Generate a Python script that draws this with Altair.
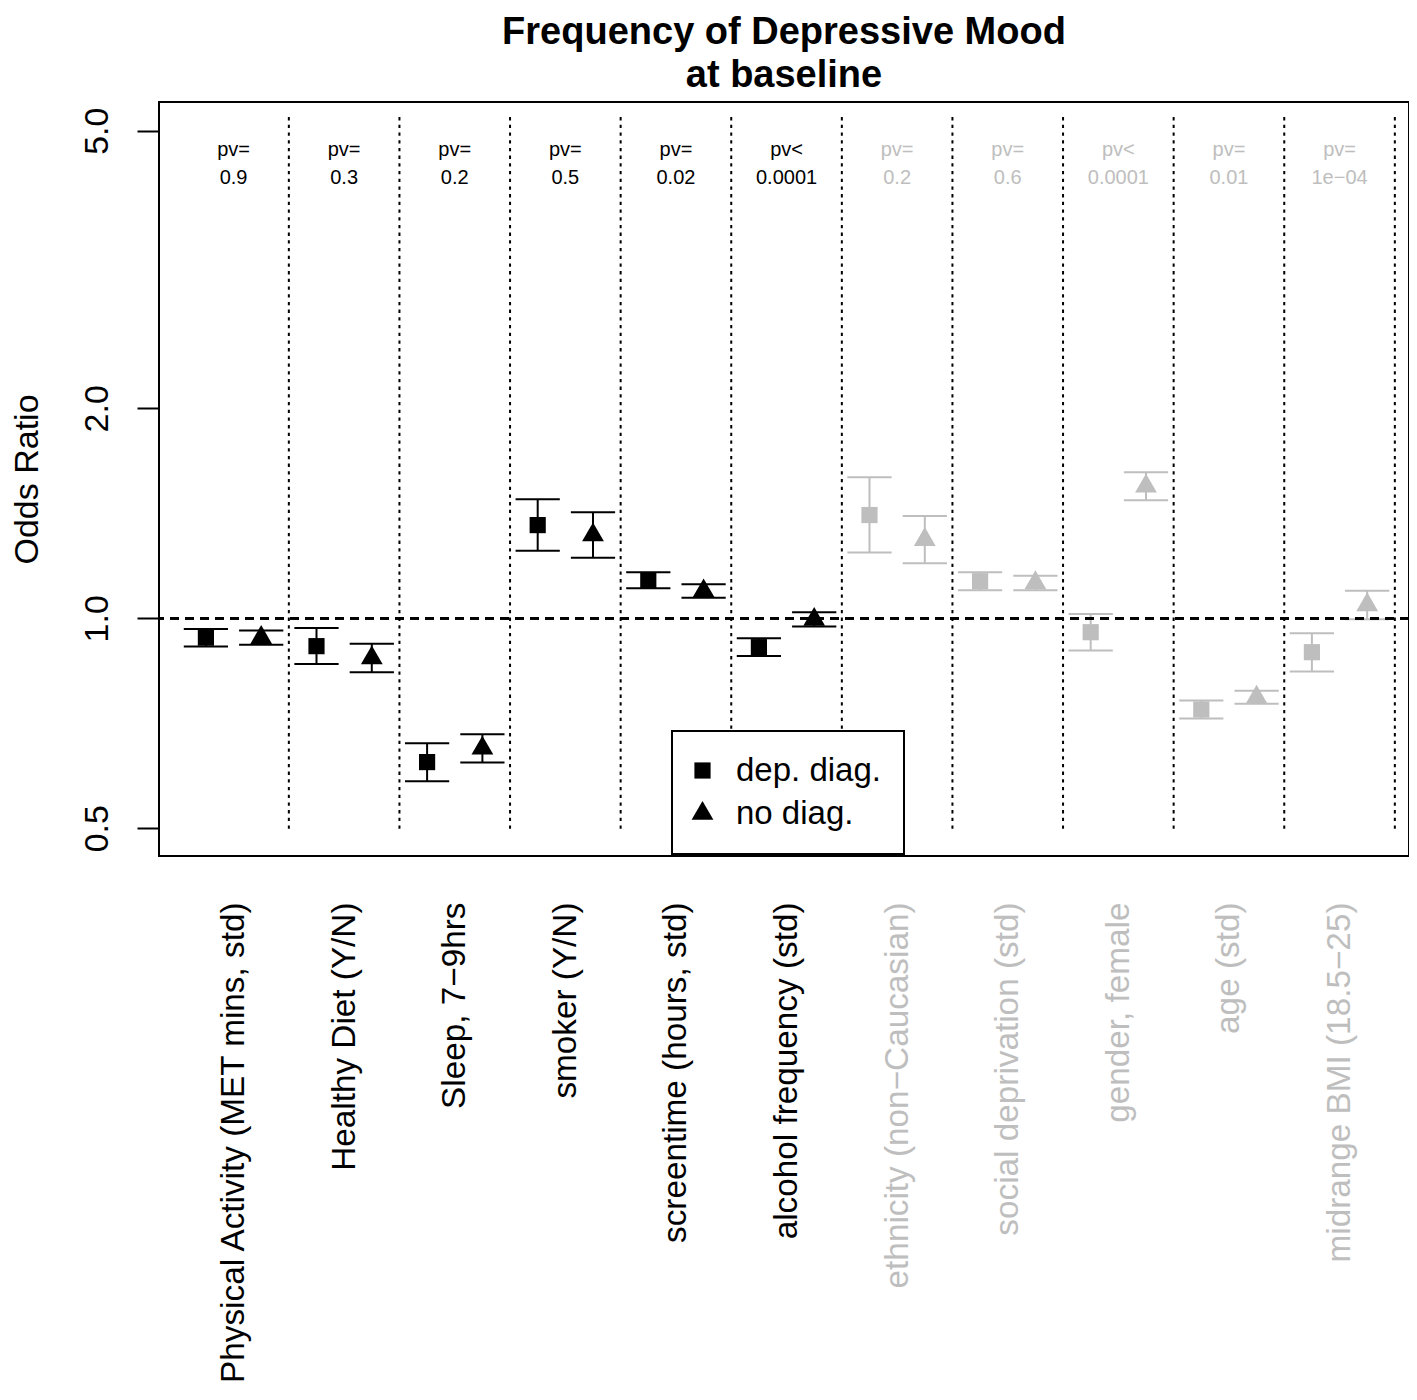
import json
import altair as alt
import pandas as pd

# ---------------- data ----------------
categories = [
    "Physical Activity (MET mins, std)",
    "Healthy Diet (Y/N)",
    "Sleep, 7−9hrs",
    "smoker (Y/N)",
    "screentime (hours, std)",
    "alcohol frequency (std)",
    "ethnicity (non−Caucasian)",
    "social deprivation (std)",
    "gender, female",
    "age (std)",
    "midrange BMI (18.5−25)",
]
is_lifestyle = [True, True, True, True, True, True, False, False, False, False, False]

dep_or = [0.938, 0.912, 0.622, 1.360, 1.134, 0.909, 1.406, 1.130, 0.955, 0.740, 0.894]
dep_lo = [0.911, 0.860, 0.584, 1.250, 1.104, 0.883, 1.242, 1.097, 0.899, 0.718, 0.839]
dep_hi = [0.965, 0.968, 0.662, 1.481, 1.164, 0.936, 1.593, 1.164, 1.014, 0.762, 0.952]

nod_or = [0.938, 0.877, 0.651, 1.316, 1.094, 0.996, 1.296, 1.124, 1.546, 0.770, 1.045]
nod_lo = [0.916, 0.837, 0.621, 1.221, 1.070, 0.973, 1.199, 1.097, 1.476, 0.754, 0.997]
nod_hi = [0.960, 0.919, 0.682, 1.419, 1.119, 1.020, 1.402, 1.151, 1.619, 0.787, 1.095]

pv_op = ["=", "=", "=", "=", "=", "<", "=", "=", "<", "=", "="]
pv_val = ["0.9", "0.3", "0.2", "0.5", "0.02", "0.0001", "0.2", "0.6", "0.0001", "0.01", "1e−04"]

series_names = ["dep. diag.", "no diag."]
y_ticks = [0.5, 1, 2, 5]

# ---------------- tables ----------------
rows = []
for i, cat in enumerate(categories):
    kind = "lifestyle" if is_lifestyle[i] else "covariate"
    for s, (o, lo, hi) in enumerate([(dep_or[i], dep_lo[i], dep_hi[i]),
                                     (nod_or[i], nod_lo[i], nod_hi[i])]):
        rows.append({"idx": i + 1, "cat": cat, "series": series_names[s],
                     "pos": i + 1 + (-0.25 if s == 0 else 0.25),
                     "or": o, "lo": lo, "hi": hi, "kind": kind})
df = pd.DataFrame(rows)

pv_df = pd.DataFrame({
    "idx": list(range(1, len(categories) + 1)),
    "line1": ["pv" + op for op in pv_op],
    "line2": pv_val,
    "kind": ["lifestyle" if f else "covariate" for f in is_lifestyle],
})
sep_df = pd.DataFrame({"sx": [i + 1.5 for i in range(len(categories))]})

FONT = "Liberation Sans"
GREY = "#bebebe"

xs = alt.Scale(domain=[0.326, 11.628], nice=False, zero=False)
ys = alt.Scale(type="log", domain=[0.4562, 5.497], nice=False)

x_axis = alt.Axis(
    values=list(range(1, len(categories) + 1)),
    labelExpr=json.dumps(categories, ensure_ascii=False) + "[datum.value - 1]",
    labelAngle=270, labelAlign="right", labelBaseline="middle",
    labelPadding=46, ticks=False, domain=False, grid=False, title=None,
    labelFontSize=33.3, labelFont=FONT, labelLimit=2000, labelOverlap=False,
    labelFlush=False, labelBound=False,
    labelColor={"condition": {"test": "datum.value <= 6", "value": "black"}, "value": GREY},
)
y_axis = alt.Axis(
    values=y_ticks, labelExpr="format(datum.value, '.1f')",
    tickSize=22, tickWidth=2, tickColor="black",
    labelAngle=270, labelAlign="center", labelBaseline="bottom", labelPadding=23,
    labelFontSize=34, labelFont=FONT, labelColor="black", labelOverlap=False,
    domain=False, grid=False,
    title="Odds Ratio", titleFontSize=34, titleFont=FONT, titleFontWeight="normal",
    titleColor="black", titleAngle=270, titleX=-132, titleY=377,
    titleAlign="center", titleBaseline="middle",
)

color_enc = alt.Color("kind:N", scale=alt.Scale(domain=["lifestyle", "covariate"],
                                                range=["#000000", GREY]), legend=None)

TRI = "M0,-1.555L1.347,0.778L-1.347,0.778Z"

base = alt.Chart(df)

bars = base.mark_rule(strokeWidth=2).encode(
    x=alt.X("pos:Q", scale=xs, axis=x_axis),
    y=alt.Y("lo:Q", scale=ys, axis=y_axis),
    y2="hi:Q",
    color=color_enc,
)
caps_lo = base.transform_calculate(
    x1="datum.pos - 0.2", x2="datum.pos + 0.2"
).mark_rule(strokeWidth=2).encode(
    x=alt.X("x1:Q", scale=xs, axis=x_axis), x2="x2:Q",
    y=alt.Y("lo:Q", scale=ys, axis=y_axis), color=color_enc,
)
caps_hi = base.transform_calculate(
    x1="datum.pos - 0.2", x2="datum.pos + 0.2"
).mark_rule(strokeWidth=2).encode(
    x=alt.X("x1:Q", scale=xs, axis=x_axis), x2="x2:Q",
    y=alt.Y("hi:Q", scale=ys, axis=y_axis), color=color_enc,
)
points = base.mark_point(filled=True, size=262, opacity=1, strokeWidth=0).encode(
    x=alt.X("pos:Q", scale=xs, axis=x_axis),
    y=alt.Y("or:Q", scale=ys, axis=y_axis),
    color=color_enc,
    shape=alt.Shape("series:N", scale=alt.Scale(domain=series_names, range=["square", TRI]),
                    legend=alt.Legend(title=None, orient="none", legendX=513, legendY=629,
                                      strokeColor="black", fillColor="white", padding=23,
                                      labelFontSize=33, labelFont=FONT, labelColor="black",
                                      symbolSize=262, symbolFillColor="black",
                                      symbolStrokeColor="black", symbolStrokeWidth=0,
                                      symbolOpacity=1, symbolOffset=-9, labelOffset=17,
                                      rowPadding=9, cornerRadius=0)),
)

pv1 = alt.Chart(pv_df).mark_text(fontSize=20, font=FONT, baseline="middle").encode(
    x=alt.X("idx:Q", scale=xs, axis=x_axis), y=alt.value(48),
    text="line1:N", color=color_enc,
)
pv2 = alt.Chart(pv_df).mark_text(fontSize=20, font=FONT, baseline="middle").encode(
    x=alt.X("idx:Q", scale=xs, axis=x_axis), y=alt.value(76),
    text="line2:N", color=color_enc,
)

seps = alt.Chart(sep_df).mark_rule(strokeDash=[3.3, 4.4], strokeWidth=2, color="black").encode(
    x=alt.X("sx:Q", scale=xs, axis=x_axis),
    y=alt.datum(5.23, scale=ys), y2=alt.datum(0.497),
)
ref_line = alt.Chart(sep_df).mark_rule(strokeDash=[9, 6], strokeWidth=2, color="black").encode(
    y=alt.datum(1),
)

chart = alt.layer(bars, caps_lo, caps_hi, points, pv1, pv2, seps, ref_line).properties(
    width=1250, height=754,
    autosize=alt.AutoSizeParams(type="none"),
    padding={"left": 151, "top": 94, "right": 0, "bottom": 534},
    title=alt.TitleParams(text=["Frequency of Depressive Mood", "at baseline"],
                          fontSize=38, fontWeight="bold", font=FONT, color="black",
                          anchor="middle", frame="group", offset=7, lineHeight=43),
).configure_view(stroke="black", strokeWidth=2).configure_legend(strokeWidth=2)

chart.save("out.html", embed_options={"renderer": "svg", "actions": False})
